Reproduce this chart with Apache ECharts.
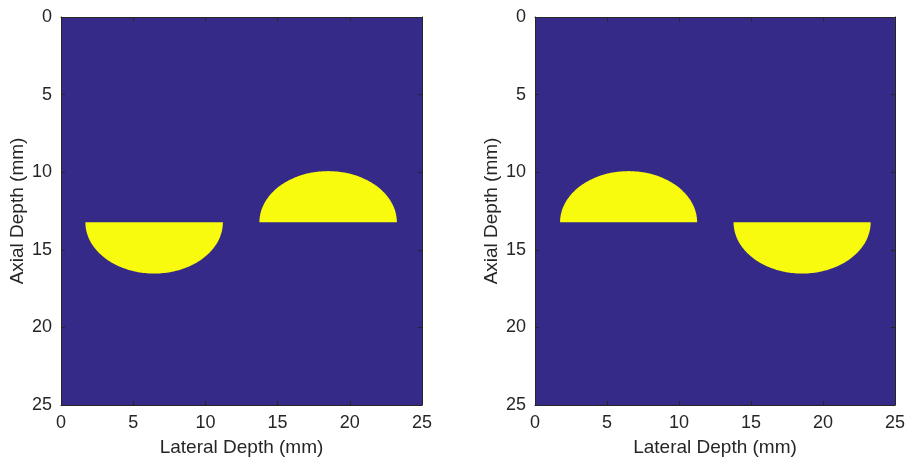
<!DOCTYPE html>
<html>
<head>
<meta charset="utf-8">
<style>
  html, body { margin: 0; padding: 0; background: #ffffff; }
  #chart { width: 908px; height: 462px; }
</style>
<script src="https://cdn.jsdelivr.net/npm/echarts@6/dist/echarts.min.js"></script>
</head>
<body>
<div id="chart"></div>
<script>
// Phantom extent (mm) and tick labels
const extentMm = 25;
const tickValues = [0, 5, 10, 15, 20, 25];

// Half-ellipse inclusions: lateral centre, flat-edge depth, radii, and which half is filled
const panelACentres = [6.45, 18.5];
const panelAHalves = ['lower', 'upper'];
const panelBCentres = [6.5, 18.55];
const panelBHalves = ['upper', 'lower'];
const baseDepths = [13.23, 13.23];
const lateralRadii = [4.76, 4.76];
const axialRadii = [3.3, 3.3];

const BG = '#352A87';
const FG = '#F9FB0E';
const INK = '#262626';
const FONT = 'Liberation Sans, Arial, Helvetica, sans-serif';
const TICK_FS = 18;
const NAME_FS = 19;

function inclusionRows(centres, halves) {
  return centres.map((c, i) => [c, baseDepths[i], lateralRadii[i], axialRadii[i], halves[i] === 'lower' ? 1 : -1]);
}

function renderInclusion(params, api) {
  const cx = api.value(0), base = api.value(1), rx = api.value(2), ry = api.value(3), dir = api.value(4);
  const pts = [];
  const n = 120;
  for (let k = 0; k <= n; k++) {
    const t = Math.PI * k / n;
    pts.push(api.coord([cx + rx * Math.cos(t), base + dir * ry * Math.sin(t)]));
  }
  return { type: 'polygon', shape: { points: pts }, style: { fill: FG } };
}

function renderBackground(params, api) {
  const p0 = api.coord([api.value(0), api.value(1)]);
  const p1 = api.coord([api.value(2), api.value(3)]);
  return {
    type: 'rect',
    shape: { x: Math.min(p0[0], p1[0]), y: Math.min(p0[1], p1[1]), width: Math.abs(p1[0] - p0[0]), height: Math.abs(p1[1] - p0[1]) },
    style: { fill: BG }
  };
}

const grids = [
  { left: 61, top: 17, width: 361, height: 388 },
  { left: 535, top: 17, width: 361, height: 388 }
];

const tickStyle = { show: true, inside: true, length: 4, lineStyle: { color: INK } };
const lineStyle = { show: true, onZero: false, lineStyle: { color: INK, width: 1 } };

function xAxes(gi) {
  const common = {
    type: 'value', gridIndex: gi, min: 0, max: extentMm, interval: 5, z: 10,
    axisLine: lineStyle, axisTick: tickStyle, splitLine: { show: false }
  };
  return [
    Object.assign({}, common, {
      position: 'bottom',
      name: 'Lateral Depth (mm)', nameLocation: 'middle', nameGap: 33,
      nameTextStyle: { color: INK, fontSize: NAME_FS, fontFamily: FONT },
      axisLabel: { color: INK, fontSize: TICK_FS, fontFamily: FONT, margin: 9,
        formatter: v => tickValues.includes(v) ? String(v) : '' }
    }),
    Object.assign({}, common, { position: 'top', axisLabel: { show: false } })
  ];
}

function yAxes(gi) {
  const common = {
    type: 'value', gridIndex: gi, min: 0, max: extentMm, interval: 5, inverse: true, z: 10,
    axisLine: lineStyle, axisTick: tickStyle, splitLine: { show: false }
  };
  return [
    Object.assign({}, common, {
      position: 'left',
      name: 'Axial Depth (mm)', nameLocation: 'middle', nameGap: 34, nameRotate: 90,
      nameTextStyle: { color: INK, fontSize: NAME_FS, fontFamily: FONT },
      axisLabel: { color: INK, fontSize: TICK_FS, fontFamily: FONT, margin: 9,
        formatter: v => tickValues.includes(v) ? String(v) : '' }
    }),
    Object.assign({}, common, { position: 'right', axisLabel: { show: false } })
  ];
}

const chart = echarts.init(document.getElementById('chart'), null, { renderer: 'canvas' });

const series = [];
[[panelACentres, panelAHalves], [panelBCentres, panelBHalves]].forEach((pair, gi) => {
  series.push({
    type: 'custom', xAxisIndex: gi * 2, yAxisIndex: gi * 2,
    renderItem: renderBackground, data: [[0, 0, extentMm, extentMm]],
    silent: true, z: 1
  });
  series.push({
    type: 'custom', xAxisIndex: gi * 2, yAxisIndex: gi * 2,
    renderItem: renderInclusion, data: inclusionRows(pair[0], pair[1]),
    silent: true, z: 2
  });
});

chart.setOption({
  animation: false,
  backgroundColor: '#ffffff',
  grid: grids,
  xAxis: [...xAxes(0), ...xAxes(1)],
  yAxis: [...yAxes(0), ...yAxes(1)],
  series: series
});
</script>
</body>
</html>
